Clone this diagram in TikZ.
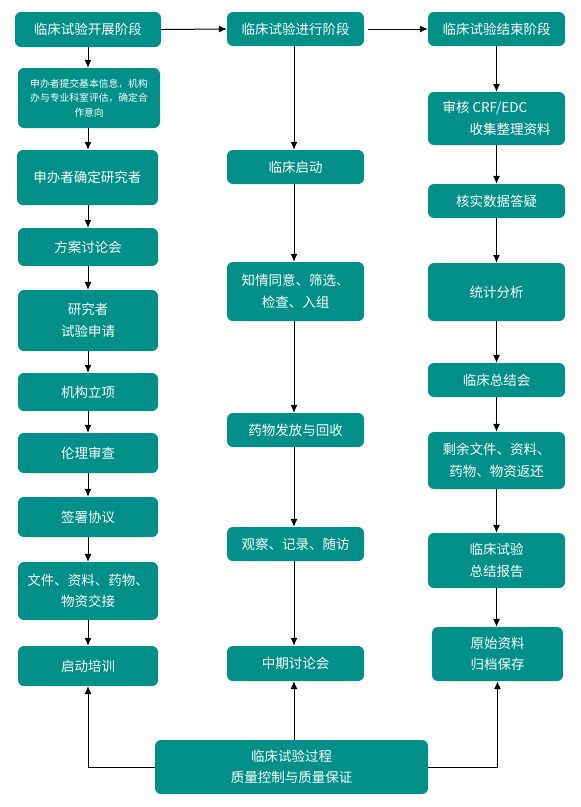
\documentclass[tikz,border=0pt]{standalone}
\usepackage{fontspec}
\setmainfont{Noto Sans CJK SC}
\usetikzlibrary{arrows.meta}
\definecolor{teal1}{RGB}{0,144,137}
\tikzset{
  box/.style={fill=teal1, rounded corners=6pt, text=white, align=center, inner sep=0pt,
    font=\fontsize{13.5}{21.5}\selectfont},
  conn/.style={line width=1pt, draw=black, -{Latex[length=8pt,width=7pt]}},
  link/.style={line width=1pt, draw=black},
}
\newcommand{\bx}[7]{\node[box, minimum width=#4pt, minimum height=#5pt, #6] (#1) at (#2,#3) {#7};}
\begin{document}
\begin{tikzpicture}[x=1pt,y=-1pt]
\useasboundingbox (0,0) rectangle (581,807);
% left column
\bx{L0}{88}{29.5}{146}{35}{}{临床试验开展阶段}
\bx{L1}{89}{98}{142}{60}{font=\fontsize{9.8}{14.5}\selectfont}{申办者提交基本信息，机构\\办与专业科室评估，确定合\\作意向}
\bx{L2}{87.5}{177.5}{141}{55}{}{申办者确定研究者}
\bx{L3}{88}{247}{140}{38}{}{方案讨论会}
\bx{L4}{88}{320.5}{140}{61}{}{研究者\\试验申请}
\bx{L5}{88}{392}{140}{38}{}{机构立项}
\bx{L6}{88}{453}{140}{40}{}{伦理审查}
\bx{L7}{88}{517}{140}{40}{}{签署协议}
\bx{L8}{88}{591}{140}{58}{}{文件、资料、药物、\\物资交接}
\bx{L9}{88}{666}{140}{40}{}{启动培训}
% middle column
\bx{M0}{295.5}{29}{137}{34}{}{临床试验进行阶段}
\bx{M1}{295.5}{167}{137}{34}{}{临床启动}
\bx{M2}{295.5}{291.5}{137}{59}{}{知情同意、筛选、\\检查、入组}
\bx{M3}{295.5}{430}{137}{34}{}{药物发放与回收}
\bx{M4}{295.5}{544}{137}{34}{}{观察、记录、随访}
\bx{M5}{295.5}{663.5}{137}{35}{}{中期讨论会}
% right column
\bx{R0}{496.5}{29}{137}{34}{}{临床试验结束阶段}
\bx{R1}{496.5}{118.5}{137}{53}{align=left}{审核 CRF/EDC\\\hspace*{2em}收集整理资料}
\bx{R2}{496.5}{201}{137}{34}{}{核实数据答疑}
\bx{R3}{496.5}{292}{137}{58}{}{统计分析}
\bx{R4}{496.5}{380}{137}{34}{}{临床总结会}
\bx{R5}{496.5}{460.5}{137}{57}{}{剩余文件、资料、\\药物、物资返还}
\bx{R6}{496.5}{560.5}{137}{55}{}{临床试验\\总结报告}
\bx{R7}{497.5}{654}{131}{54}{}{原始资料\\归档保存}
% bottom
\bx{B}{291.5}{767}{273}{54}{}{临床试验过程\\质量控制与质量保证}
% top row
\draw[conn] (L0.east) -- (M0.west);
\draw[conn, shorten <=4pt] (M0.east) -- (R0.west);
% left chain
\foreach \a/\b in {L0/L1,L1/L2,L2/L3,L3/L4,L4/L5,L5/L6,L6/L7,L7/L8,L8/L9}
  \draw[conn] (\a.south -| L9.south) -- (\b.north -| L9.south);
% middle chain
\foreach \a/\b in {M0/M1,M1/M2,M2/M3,M3/M4,M4/M5}
  \draw[conn] ([xshift=-1.5pt]\a.south) -- ([xshift=-1.5pt]\b.north);
% right chain
\foreach \a/\b in {R0/R1,R1/R2,R2/R3,R3/R4,R4/R5,R5/R6,R6/R7}
  \draw[conn] (\a.south -| R0.south) -- (\b.north -| R0.south);
% bottom links
\draw[conn] (B.west) -| (L9.south);
\draw[conn] ([xshift=-1.5pt]B.north -| M5.south) -- ([xshift=-1.5pt]M5.south);
\draw[conn] (B.east) -| (R7.south);
\end{tikzpicture}
\end{document}
